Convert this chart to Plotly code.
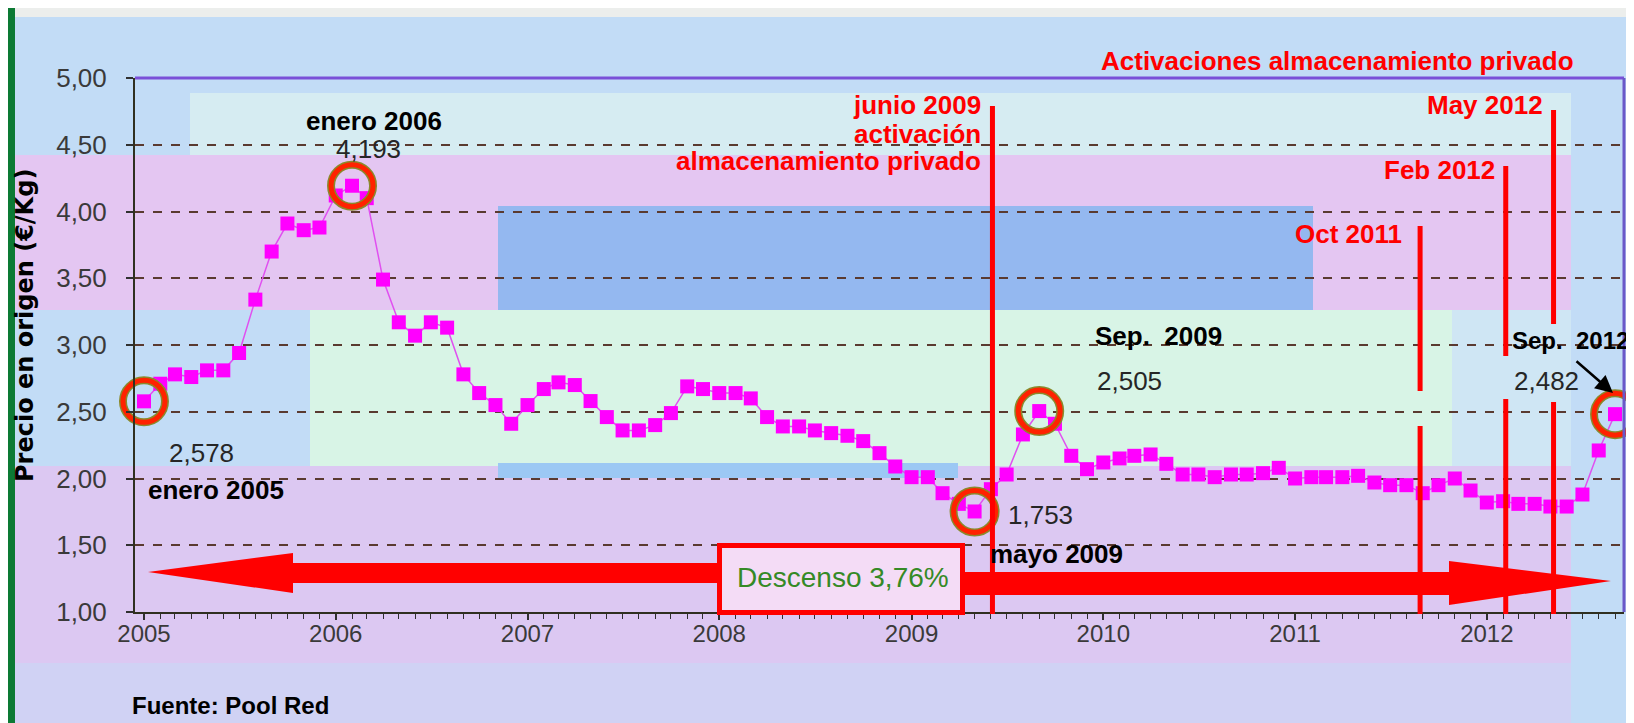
import plotly.graph_objects as go
import pandas as pd

# --- data (monthly price, Jan 2005 - Sep 2012) ---
meses = pd.date_range("2005-01-01", "2012-09-01", freq="MS")
precio = [
    2.578, 2.71, 2.78, 2.76, 2.81, 2.81, 2.94, 3.34, 3.70, 3.91, 3.86, 3.88,   # 2005
    4.12, 4.193, 4.10, 3.49, 3.17, 3.07, 3.17, 3.13, 2.78, 2.64, 2.55, 2.41,   # 2006
    2.55, 2.67, 2.72, 2.70, 2.58, 2.46, 2.36, 2.36, 2.40, 2.49, 2.69, 2.67,    # 2007
    2.64, 2.64, 2.60, 2.46, 2.39, 2.39, 2.36, 2.34, 2.32, 2.28, 2.19, 2.09,    # 2008
    2.01, 2.01, 1.89, 1.81, 1.753, 1.92, 2.03, 2.33, 2.505, 2.41, 2.17, 2.07,  # 2009
    2.12, 2.15, 2.17, 2.18, 2.11, 2.03, 2.03, 2.01, 2.03, 2.03, 2.04, 2.08,    # 2010
    2.00, 2.01, 2.01, 2.01, 2.02, 1.97, 1.95, 1.95, 1.89, 1.95, 2.00, 1.91,    # 2011
    1.82, 1.83, 1.81, 1.81, 1.79, 1.79, 1.88, 2.21, 2.482,                     # 2012
]
# highlighted points (index into precio)
destacados = [0, 13, 52, 56, 92]
# private storage activations
eventos = ["junio 2009", "Oct 2011", "Feb 2012", "May 2012"]
eventos_fecha = ["2009-06-04", "2011-08-27", "2012-02-06", "2012-05-07"]

FONT = "Liberation Sans, Arial, sans-serif"
RED = "#ff0000"

# plot area in pixels
W, H = 1634, 723
L, R, T, B = 127, 1616, 70, 604


def px(x):
    return (x - L) / (R - L)


def py(y):
    return (B - y) / (B - T)


def fmt(v):
    return f"{v:.3f}".replace(".", ",")


fig = go.Figure()

fig.add_trace(go.Scatter(
    x=meses, y=precio, mode="lines+markers",
    line=dict(color="#e050f0", width=1.5),
    marker=dict(symbol="square", size=14, color="#ff00ff"),
    showlegend=False, cliponaxis=False,
))
# circles round highlighted points (open symbols take marker.color as stroke)
fig.add_trace(go.Scatter(
    x=[meses[i] for i in destacados], y=[precio[i] for i in destacados],
    mode="markers", showlegend=False, cliponaxis=False,
    marker=dict(symbol="circle-open", size=42, color="#8a8a2c", line=dict(width=8)),
))
fig.add_trace(go.Scatter(
    x=[meses[i] for i in destacados], y=[precio[i] for i in destacados],
    mode="markers", showlegend=False, cliponaxis=False,
    marker=dict(symbol="circle-open", size=42, color="#ff2200", line=dict(width=5)),
))

shapes = []

# background patches (pixel boxes)
fondo = [
    (0, 0, W, 9, "#eceeec"),
    (182, 85, 1563, 147, "#d6ecf2"),
    (0, 147, 1563, 302, "#e4c6f2"),
    (490, 198, 1305, 302, "#94b8f0"),
    (302, 302, 1444, 458, "#d8f4e6"),
    (1444, 302, 1563, 458, "#cfe6f4"),
    (0, 458, 1563, 655, "#dcc8f2"),
    (490, 455, 950, 470, "#9cc8f4"),
    (0, 655, 1563, 723, "#d0d2f4"),
    (1626, 0, W, H, "#e6eae6"),
    (0, 0, 7, H, "#0c7a34"),
]
for x0, y0, x1, y1, c in fondo:
    shapes.append(dict(type="rect", xref="paper", yref="paper", layer="below",
                       x0=px(x0), x1=px(x1), y0=py(y0), y1=py(y1),
                       fillcolor=c, line=dict(width=0)))

# frame top / right
shapes.append(dict(type="line", xref="paper", yref="paper", x0=0, x1=1, y0=1, y1=1,
                   line=dict(color="#7a50d8", width=3)))
shapes.append(dict(type="line", xref="paper", yref="paper", x0=1, x1=1, y0=0, y1=1,
                   line=dict(color="#6a58c8", width=3)))

# big red double arrow
izq = [(140, 564), (285, 545), (285, 555), (720, 555), (720, 575), (285, 575), (285, 585)]
der = [(950, 564), (1441, 564), (1441, 553), (1603, 573), (1441, 597), (1441, 587), (950, 587)]
for poly in (izq, der):
    path = "M " + " L ".join(f"{px(a):.5f},{py(b):.5f}" for a, b in poly) + " Z"
    shapes.append(dict(type="path", xref="paper", yref="paper", path=path,
                       fillcolor=RED, line=dict(width=0), layer="above"))

# Descenso box
shapes.append(dict(type="rect", xref="paper", yref="paper", layer="above",
                   x0=px(711.5), x1=px(954.5), y0=py(537.5), y1=py(604.5),
                   fillcolor="#f4dcf6", line=dict(color=RED, width=5)))

# red vertical lines (segments in pixel y)
segmentos = [
    [(98, 606)],
    [(218, 383), (418, 606)],
    [(158, 348), (391, 606)],
    [(102, 316), (394, 606)],
]
for fecha, segs in zip(eventos_fecha, segmentos):
    for y0, y1 in segs:
        shapes.append(dict(type="line", xref="x", yref="paper", layer="above",
                           x0=fecha, x1=fecha, y0=py(y0), y1=py(y1),
                           line=dict(color=RED, width=5)))

ann = []


def texto(t, x, y, size=26, color="black", bold=False, xanchor="center", angle=0, family=FONT):
    ann.append(dict(text=f"<b>{t}</b>" if bold else t, x=px(x), y=py(y),
                    xref="paper", yref="paper", showarrow=False,
                    xanchor=xanchor, yanchor="middle", textangle=angle,
                    font=dict(family=family, size=size, color=color)))


texto("Activaciones almacenamiento privado", 1568, 53, color=RED, bold=True, xanchor="right")
texto("junio 2009", 975, 97, color=RED, bold=True, xanchor="right")
texto("activación", 975, 126, color=RED, bold=True, xanchor="right")
texto("almacenamiento privado", 975, 153, color=RED, bold=True, xanchor="right")
texto(eventos[3], 1537, 97, color=RED, bold=True, xanchor="right")
texto(eventos[2], 1489, 162, color=RED, bold=True, xanchor="right")
texto(eventos[1], 1396, 226, color=RED, bold=True, xanchor="right")

texto("enero 2006", 366, 113, bold=True)
texto(fmt(precio[13]), 360, 141, color="#262626")
texto(fmt(precio[0]), 193, 445, color="#262626")
texto("enero 2005", 208, 482, bold=True)
texto(fmt(precio[52]), 1032, 507, color="#262626")
texto("mayo 2009", 1048, 546, bold=True)
texto("Sep.\u00a0 2009", 1150, 328, bold=True)
texto(fmt(precio[56]), 1121, 373, color="#262626")
texto("Sep.\u00a0 2012", 1562, 332, size=24, bold=True)
texto(fmt(precio[92]), 1538, 373, color="#262626")
texto("Fuente: Pool Red", 222, 697, size=24, bold=True)
texto("Descenso 3,76%", 835, 569, size=28, color="#358a26")
texto("Precio en origen (€/Kg)", 17, 318, size=24, bold=True, angle=-90,
      family="DejaVu Sans, Liberation Sans, sans-serif")

# arrow to Sep 2012 point
ann.append(dict(text="", x=px(1605), y=py(385), xref="paper", yref="paper",
                ax=-38, ay=-33, showarrow=True, arrowhead=2, arrowsize=1.4,
                arrowwidth=2.5, arrowcolor="black"))

x0 = pd.Timestamp("2005-01-01") - pd.Timedelta(days=17.1)
x1 = pd.Timestamp("2012-09-01") + pd.Timedelta(days=17.1)

fig.update_layout(
    width=W, height=H, autosize=False,
    margin=dict(l=L, r=W - R, t=T, b=H - B, pad=0),
    paper_bgcolor="#c2dcf6", plot_bgcolor="rgba(0,0,0,0)",
    separators=",.",
    font=dict(family=FONT),
    shapes=shapes, annotations=ann,
    xaxis=dict(
        type="date", range=[x0, x1], tick0="2005-01-01", dtick="M12", tickformat="%Y",
        ticks="outside", ticklen=6, tickwidth=1.5, tickcolor="#303030",
        minor=dict(dtick="M1", ticks="outside", ticklen=5, tickwidth=1, tickcolor="#303030"),
        showgrid=False, showline=True, linecolor="#303020", linewidth=2,
        tickfont=dict(family=FONT, size=24, color="#3a3a3a"), ticklabelstandoff=-7,
        zeroline=False,
    ),
    yaxis=dict(
        range=[1, 5], dtick=0.5, tickformat=".2f",
        ticks="outside", ticklen=7, tickwidth=1.5, tickcolor="#303030",
        showgrid=True, gridcolor="#5a3a30", gridwidth=1.5, griddash="dash",
        showline=True, linecolor="#303020", linewidth=2, zeroline=False,
        tickfont=dict(family=FONT, size=26, color="#3a3a3a"), ticklabelstandoff=14,
    ),
)

fig.write_html("out.html")
